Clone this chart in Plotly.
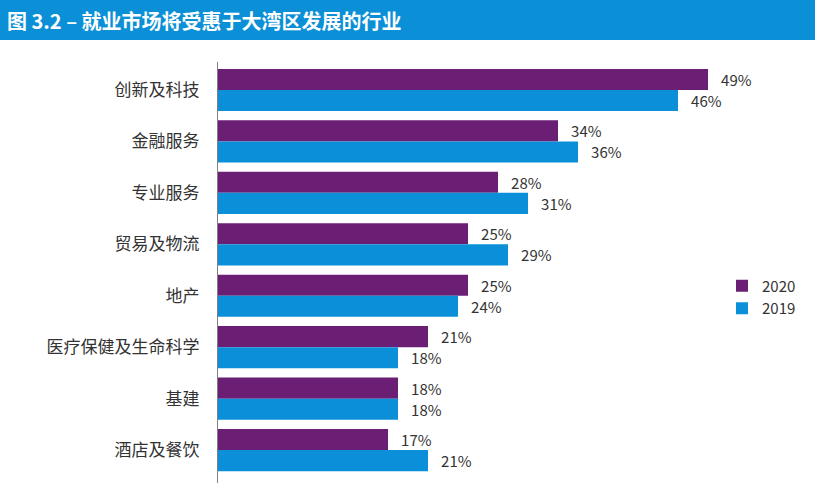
import plotly.graph_objects as go

categories = ["创新及科技", "金融服务", "专业服务", "贸易及物流", "地产", "医疗保健及生命科学", "基建", "酒店及餐饮"]
values_2020 = [49, 34, 28, 25, 25, 21, 18, 17]
values_2019 = [46, 36, 31, 29, 24, 18, 18, 21]
series_names = ["2020", "2019"]
title_text = "图 3.2 – 就业市场将受惠于大湾区发展的行业"

PURPLE = "#6a1f74"
BLUE = "#0b8fd9"
FONT = "Noto Sans CJK SC"

L, R, T, B = 218, 20, 62, 17
PW = 815 - L - R          # plot width in px
PH = 500 - T - B          # plot height in px

fig = go.Figure()
for name, vals, col in [(series_names[0], values_2020, PURPLE), (series_names[1], values_2019, BLUE)]:
    fig.add_trace(go.Bar(
        y=categories, x=vals, orientation="h", name=name,
        marker=dict(color=col, line=dict(width=0)),
        text=[f"   {v}%" for v in vals], textposition="outside",
        textfont=dict(family=FONT, size=15, color="#333333"),
        cliponaxis=False,
    ))

fig.update_layout(
    width=815, height=500, autosize=False,
    margin=dict(l=L, r=R, t=T, b=B),
    barmode="group", bargap=0.18, bargroupgap=0,
    plot_bgcolor="white", paper_bgcolor="white",
    font=dict(family=FONT, color="#333333"),
    showlegend=True,
    legend=dict(x=(722 - L) / PW, xanchor="left", y=1 - (297 - T) / PH, yanchor="middle",
                font=dict(family=FONT, size=15, color="#333333"),
                bgcolor="rgba(0,0,0,0)", tracegroupgap=0, itemwidth=30),
    xaxis=dict(range=[0, PW / 10], showgrid=False, zeroline=False, showticklabels=False,
               showline=False, fixedrange=True),
    yaxis=dict(range=[7.64, -0.544], showgrid=False, zeroline=False,
               showline=True, linecolor="#808080", linewidth=1,
               ticks="", ticklabelstandoff=14,
               tickfont=dict(family=FONT, size=17, color="#333333")),
    shapes=[dict(type="rect", xref="paper", yref="paper", x0=-1, x1=1.5,
                 y0=1.0 + 22 / PH, y1=1.2, fillcolor="#0b8fd6", line=dict(width=0), layer="below")],
    annotations=[dict(text="<b>" + title_text + "</b>", xref="paper", yref="paper",
                      x=(5 - L) / PW, y=1.0 + 42 / PH, xanchor="left", yanchor="middle",
                      showarrow=False, font=dict(family=FONT, size=20, color="white"))],
)

post = ("document.documentElement.style.overflow='hidden';"
        "document.body.style.overflow='hidden';"
        "document.body.style.margin='0px';document.body.style.padding='0px';"
        "var gd=document.getElementById('{plot_id}');"
        "Plotly.relayout(gd,{width:815,height:500});")
fig.write_html("out.html", post_script=post,
               config={"displayModeBar": False, "responsive": False})
